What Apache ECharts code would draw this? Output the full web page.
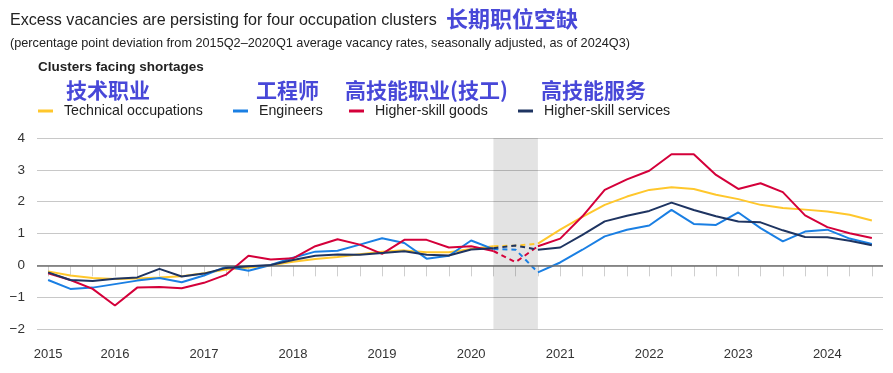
<!DOCTYPE html>
<html><head><meta charset="utf-8">
<script src="https://cdn.jsdelivr.net/npm/echarts@6/dist/echarts.min.js"></script>
<style>html,body{margin:0;padding:0;background:#fff}#c{width:893px;height:373px}</style>
</head><body><div id="c"></div>
<script>
const quarters = ['2015Q2','2015Q3','2015Q4','2016Q1','2016Q2','2016Q3','2016Q4','2017Q1','2017Q2','2017Q3','2017Q4',
  '2018Q1','2018Q2','2018Q3','2018Q4','2019Q1','2019Q2','2019Q3','2019Q4','2020Q1','2020Q2','2020Q3','2020Q4',
  '2021Q1','2021Q2','2021Q3','2021Q4','2022Q1','2022Q2','2022Q3','2022Q4','2023Q1','2023Q2','2023Q3','2023Q4',
  '2024Q1','2024Q2','2024Q3'];
const seriesNames = ['Technical occupations','Engineers','Higher-skill goods','Higher-skill services'];
const seriesNamesZh = ['技术职业','工程师','高技能职业(技工)','高技能服务'];
const technical = [-0.19,-0.32,-0.40,-0.43,-0.41,-0.38,-0.34,-0.25,-0.13,-0.07,0.00,0.11,0.20,0.26,0.35,0.43,0.47,0.41,0.41,0.51,0.60,0.62,0.68,1.12,1.52,1.90,2.16,2.37,2.45,2.40,2.22,2.08,1.90,1.80,1.75,1.69,1.59,1.41];
const engineers = [-0.46,-0.74,-0.70,-0.59,-0.48,-0.40,-0.53,-0.32,-0.04,-0.17,0.01,0.24,0.43,0.46,0.65,0.85,0.70,0.21,0.30,0.78,0.51,0.49,-0.22,0.09,0.49,0.91,1.12,1.25,1.74,1.30,1.27,1.66,1.17,0.75,1.06,1.12,0.84,0.67];
const goods = [-0.25,-0.46,-0.74,-1.26,-0.70,-0.68,-0.72,-0.55,-0.29,0.30,0.18,0.22,0.60,0.82,0.65,0.36,0.80,0.80,0.56,0.60,0.45,0.10,0.60,0.84,1.54,2.37,2.70,2.97,3.49,3.49,2.84,2.40,2.58,2.30,1.57,1.20,1.01,0.86];
const services = [-0.22,-0.46,-0.49,-0.42,-0.38,-0.11,-0.35,-0.26,-0.08,-0.03,0.01,0.17,0.30,0.34,0.33,0.39,0.44,0.33,0.31,0.50,0.54,0.62,0.49,0.56,0.96,1.38,1.56,1.71,1.97,1.74,1.54,1.38,1.35,1.10,0.89,0.88,0.77,0.63];
const colors = ['#ffc72c','#1a7fe3','#d4003a','#1e3461'];
const gapStart = '2020Q2', gapMid = '2020Q3', gapEnd = '2020Q4';
const yTicks = [-2,-1,0,1,2,3,4];

const allData = [technical, engineers, goods, services];
const iS = quarters.indexOf(gapStart), iM = quarters.indexOf(gapMid), iE = quarters.indexOf(gapEnd);
const FONT = "'Liberation Sans', Arial, sans-serif";
const CJK = "'Noto Sans CJK SC', sans-serif";

const series = [];
allData.forEach((d, k) => {
  const solid = d.map((v, i) => (i === iM ? null : v));
  const dashed = d.map((v, i) => (i >= iS && i <= iE ? v : null));
  const s = {
    name: seriesNames[k], type: 'line', data: solid, symbol: 'none', connectNulls: false,
    color: colors[k], lineStyle: { width: 2, color: colors[k] }, z: 3 + k
  };
  if (k === 0) {
    s.markArea = { silent: true, itemStyle: { color: 'rgba(0,0,0,0.11)' },
      data: [[{ xAxis: gapStart }, { xAxis: gapEnd }]] };
    s.markLine = { silent: true, symbol: 'none', label: { show: false },
      lineStyle: { color: '#6e6e6e', width: 1.5, type: 'solid' }, data: [{ yAxis: 0 }] };
  }
  series.push(s);
  series.push({
    name: seriesNames[k], type: 'line', data: dashed, symbol: 'none', connectNulls: false,
    color: colors[k], lineStyle: { width: 2, color: colors[k], type: [5, 4] }, z: 3 + k
  });
});

const legendLeft = [38, 233, 349, 518];
const zhLeft = [66, 256, 345, 541];

const chart = echarts.init(document.getElementById('c'), null, { renderer: 'canvas' });
chart.setOption({
  animation: false,
  textStyle: { fontFamily: FONT },
  grid: { left: 37, right: 10, top: 138, bottom: 44 },
  legend: seriesNames.map((n, i) => ({
    data: [n], left: legendLeft[i], top: 104, icon: 'rect', itemWidth: 15, itemHeight: 3,
    selectedMode: false, padding: 0,
    textStyle: { fontFamily: FONT, fontSize: 14.2, color: '#222', padding: [0, 0, 0, 6] }
  })),
  xAxis: {
    type: 'category', data: quarters, boundaryGap: true,
    axisLine: { show: false },
    axisTick: { show: true, alignWithLabel: true, interval: 0, length: 11, lineStyle: { color: '#cfcfcf', width: 1 } },
    axisLabel: {
      interval: (idx) => idx === 0 || (idx - 3) % 4 === 0,
      formatter: (v) => v.slice(0, 4), fontSize: 13, color: '#333', margin: 19, fontFamily: FONT
    },
    splitLine: { show: false }
  },
  yAxis: {
    type: 'value', min: yTicks[0], max: yTicks[yTicks.length - 1], interval: 1,
    axisLine: { show: false }, axisTick: { show: false },
    axisLabel: { fontSize: 13.5, color: '#333', margin: 12, fontFamily: FONT,
      formatter: (v) => String(v).replace('-', '\u2212') },
    splitLine: { lineStyle: { color: '#c8c8c8', width: 1 } }
  },
  graphic: [
    { type: 'text', left: 10, top: 13, style: { text: 'Excess vacancies are persisting for four occupation clusters', font: '16.1px ' + FONT, fill: '#222' } },
    { type: 'text', left: 446, top: 8, style: { text: '长期职位空缺', font: 'bold 22px ' + CJK, fill: '#4848d8' } },
    { type: 'text', left: 10, top: 37, style: { text: '(percentage point deviation from 2015Q2\u20132020Q1 average vacancy rates, seasonally adjusted, as of 2024Q3)', font: '12.7px ' + FONT, fill: '#222' } },
    { type: 'text', left: 38, top: 60, style: { text: 'Clusters facing shortages', font: 'bold 13.5px ' + FONT, fill: '#222' } }
  ].concat(seriesNamesZh.map((t, i) => ({
    type: 'text', left: zhLeft[i], top: 80, style: { text: t, font: 'bold 21px ' + CJK, fill: '#4848d8' }
  }))),
  series: series
});
</script></body></html>
